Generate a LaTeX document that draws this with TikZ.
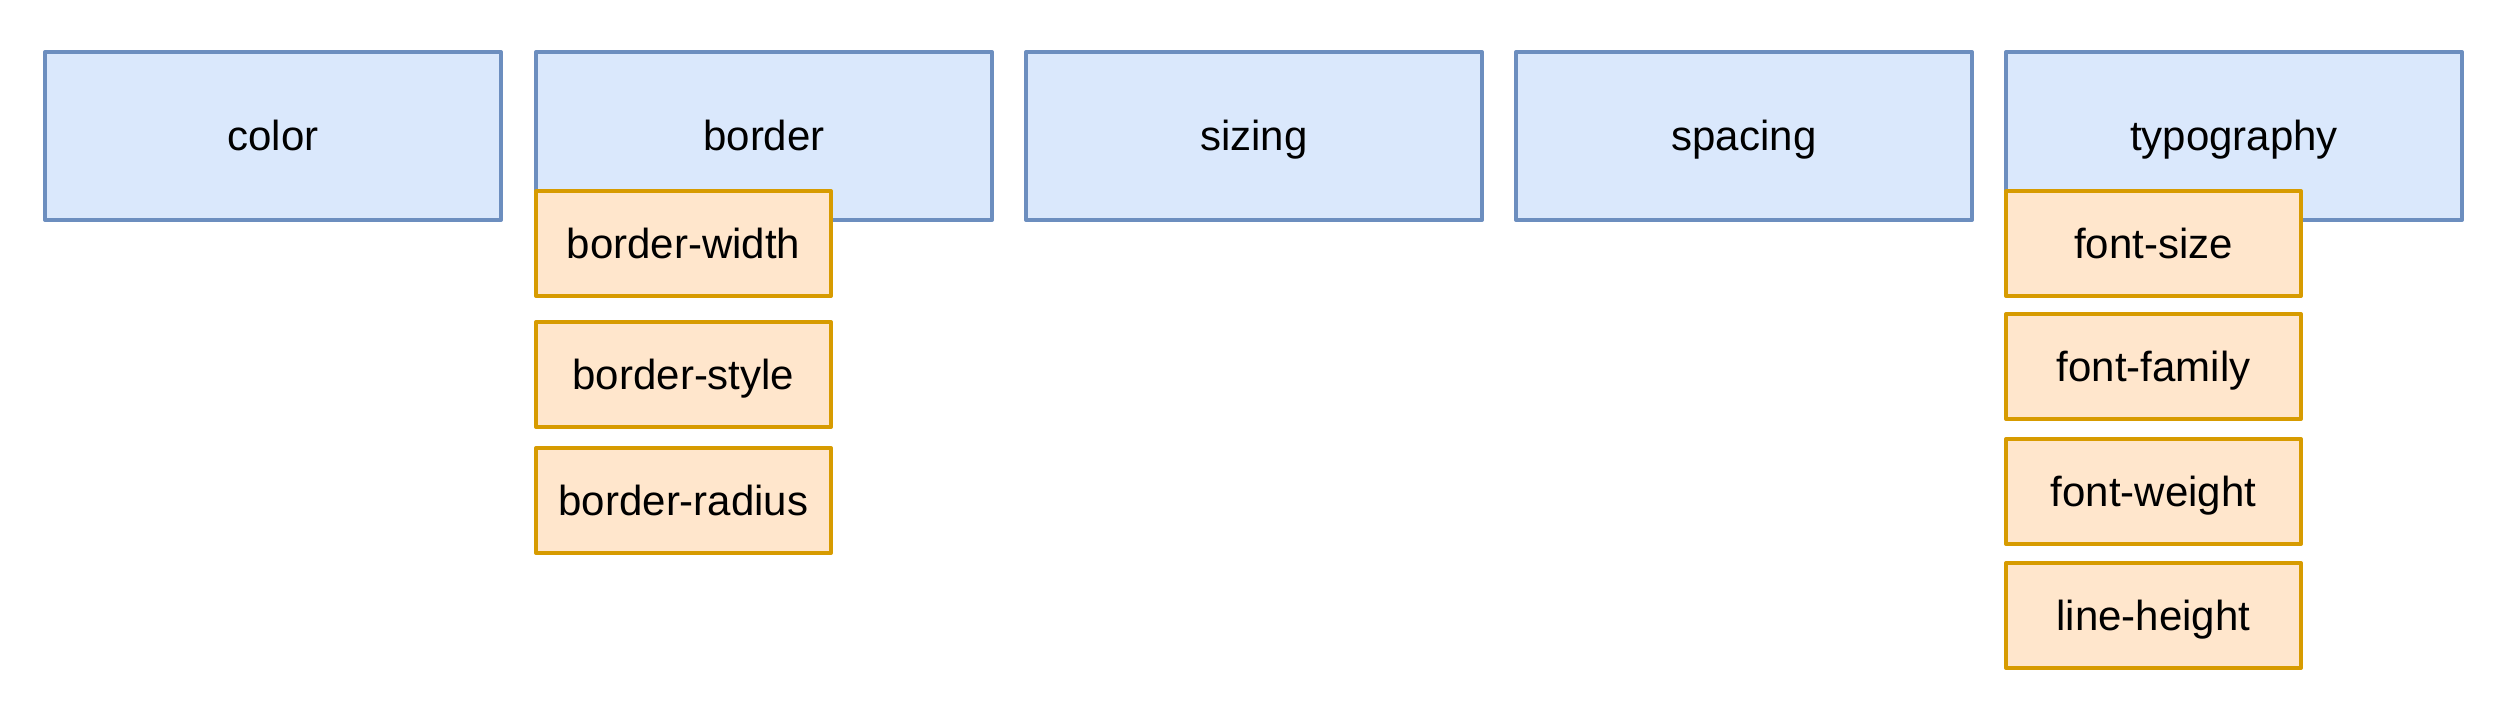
\documentclass[tikz,border=0pt]{standalone}
\usepackage{fontspec}
\setmainfont{Liberation Sans}
\definecolor{bluefill}{HTML}{DAE8FC}
\definecolor{bluedraw}{HTML}{6C8EBF}
\definecolor{orfill}{HTML}{FFE6CC}
\definecolor{ordraw}{HTML}{D79B00}
\begin{document}
\begin{tikzpicture}[x=1pt,y=-1pt,
  lbl/.style={font=\fontsize{42}{48}\selectfont, text height=29pt, text depth=0pt, inner sep=0pt, anchor=north west, line width=4pt, line join=round},
  cat/.style={lbl, draw=bluedraw, fill=bluefill, minimum width=456pt, minimum height=168pt},
  prop/.style={lbl, draw=ordraw, fill=orfill, minimum width=295pt, minimum height=105pt}]
\useasboundingbox[fill=white] (0,0) rectangle (2508,716);
% categories
\node[cat] (color)   at (43,50)   {color};
\node[cat] (border)  at (534,50)  {border};
\node[cat] (sizing)  at (1024,50) {sizing};
\node[cat] (spacing) at (1514,50) {spacing};
\node[cat] (typo)    at (2004,50) {typography};
% border properties
\node[prop] (bw) at (534,189) {border-width};
\node[prop] (bs) at (534,320) {border-style};
\node[prop] (br) at (534,446) {border-radius};
% typography properties
\node[prop] (fs) at (2004,189) {font-size};
\node[prop] (ff) at (2004,312) {font-family};
\node[prop] (fw) at (2004,437) {font-weight};
\node[prop] (lh) at (2004,561) {line-height};
\end{tikzpicture}
\end{document}
